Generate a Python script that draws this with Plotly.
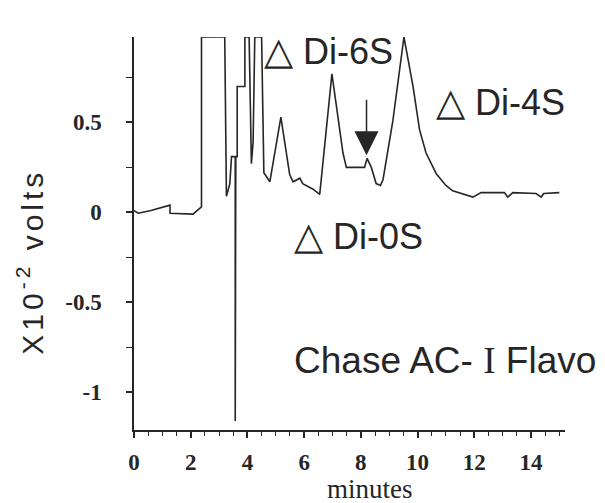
import plotly.graph_objects as go

# Chromatogram trace (minutes, x10^-2 volts); detector saturates at the top of the plot
time_min = [0.0, 0.15, 0.6, 1.27, 1.27, 2.08, 2.38, 2.38, 3.2, 3.26, 3.38, 3.44,
            3.57, 3.57, 3.59, 3.64, 3.64, 3.91, 3.91, 4.06, 4.14, 4.2, 4.26, 4.5,
            4.58, 4.79, 5.18, 5.49, 5.61, 5.85, 5.95, 6.3, 6.55, 6.98, 7.14, 7.37,
            7.49, 8.13, 8.22, 8.37, 8.54, 8.69, 8.78, 9.13, 9.52, 9.84, 10.07, 10.3,
            10.66, 11.0, 11.24, 11.95, 12.24, 13.06, 13.18, 13.36, 14.18, 14.36,
            14.45, 15.0]
signal = [0.01, -0.005, 0.01, 0.04, -0.005, -0.01, 0.03, 0.975, 0.975, 0.09, 0.16, 0.31,
          0.31, -1.16, 0.31, 0.31, 0.70, 0.70, 0.975, 0.975, 0.27, 0.39, 0.975, 0.975,
          0.22, 0.17, 0.53, 0.21, 0.17, 0.19, 0.16, 0.13, 0.10, 0.77, 0.59, 0.33,
          0.25, 0.25, 0.30, 0.25, 0.16, 0.15, 0.18, 0.51, 0.975, 0.70, 0.46, 0.33,
          0.215, 0.15, 0.12, 0.085, 0.11, 0.11, 0.085, 0.11, 0.105, 0.085,
          0.105, 0.11]

x_ticks = [0, 2, 4, 6, 8, 10, 12, 14]
y_ticks = [-1, -0.5, 0, 0.5]
y_tick_text = ["-1", "-0.5", "0", "0.5"]

peak_names = ["Di-6S", "Di-4S", "Di-0S"]
# label anchor (right edge, vertical middle) in paper coordinates
peak_label_pos = [(0.6056, 0.9644), (1.0046, 0.8346), (0.6752, 0.4936)]
sample_label = "Chase AC- <span style='font-family:Liberation Serif'>I</span> Flavo"
marker_time = 8.2
marker_signal = 0.317

ink = "#262626"
serif = "Liberation Serif"
sans = "Liberation Sans"

fig = go.Figure()
fig.add_trace(go.Scatter(x=time_min, y=signal, mode="lines",
                         line=dict(color=ink, width=1.6), hoverinfo="skip"))

fig.update_xaxes(range=[0, 15.2], showgrid=False, zeroline=False, automargin=False,
                 showline=True, linecolor=ink, linewidth=1.5,
                 tickmode="array", tickvals=x_ticks, ticks="outside",
                 ticklen=6, tickwidth=1.5, tickcolor=ink,
                 ticklabelstandoff=5,
                 minor=dict(dtick=0.5, tick0=0, ticks="outside", ticklen=4,
                            tickwidth=1.2, tickcolor=ink),
                 tickfont=dict(family=serif, size=23, color=ink, weight="bold"))
fig.update_yaxes(range=[-1.21, 0.975], showgrid=False, zeroline=False, automargin=False,
                 showline=True, linecolor=ink, linewidth=1.5,
                 tickmode="array", tickvals=y_ticks, ticktext=y_tick_text,
                 ticks="outside", ticklen=6, tickwidth=1.5, tickcolor=ink,
                 ticklabelstandoff=20,
                 minor=dict(dtick=0.25, tick0=0, ticks="outside", ticklen=6,
                            tickwidth=1.2, tickcolor=ink),
                 tickfont=dict(family=serif, size=23, color=ink, weight="bold"))

for name, (px, py) in zip(peak_names, peak_label_pos):
    fig.add_annotation(x=px, y=py, xref="paper", yref="paper",
                       text="<span style='font-size:38px'>△</span> " + name,
                       showarrow=False, xanchor="right", yanchor="middle",
                       font=dict(family=sans, size=36, color=ink))

fig.add_annotation(x=marker_time, y=marker_signal, xref="x", yref="y",
                   text="", showarrow=True, ax=0, ay=-57,
                   arrowhead=2, arrowsize=3.2, arrowwidth=1.5, arrowcolor=ink)

fig.add_annotation(x=1.077, y=0.1756, xref="paper", yref="paper", text=sample_label,
                   showarrow=False, xanchor="right", yanchor="middle",
                   font=dict(family=sans, size=37, color=ink))

fig.add_annotation(text="<span style='letter-spacing:4px'>X10<sup>-2</sup> volts</span>",
                   x=-0.24, y=0.427,
                   xref="paper", yref="paper", showarrow=False, textangle=-90,
                   xanchor="center", yanchor="middle",
                   font=dict(family=sans, size=30, color=ink))
fig.add_annotation(text="minutes", x=0.548, y=-0.15, xref="paper", yref="paper",
                   showarrow=False, xanchor="center", yanchor="middle",
                   font=dict(family=serif, size=27, color=ink))

# page body adds an 8px offset, so the figure is sized to fit the 605x503 window
fig.update_layout(width=597, height=495, margin=dict(l=126, r=40, t=29, b=73),
                  paper_bgcolor="white", plot_bgcolor="white", showlegend=False)

fig.write_html("out.html")
